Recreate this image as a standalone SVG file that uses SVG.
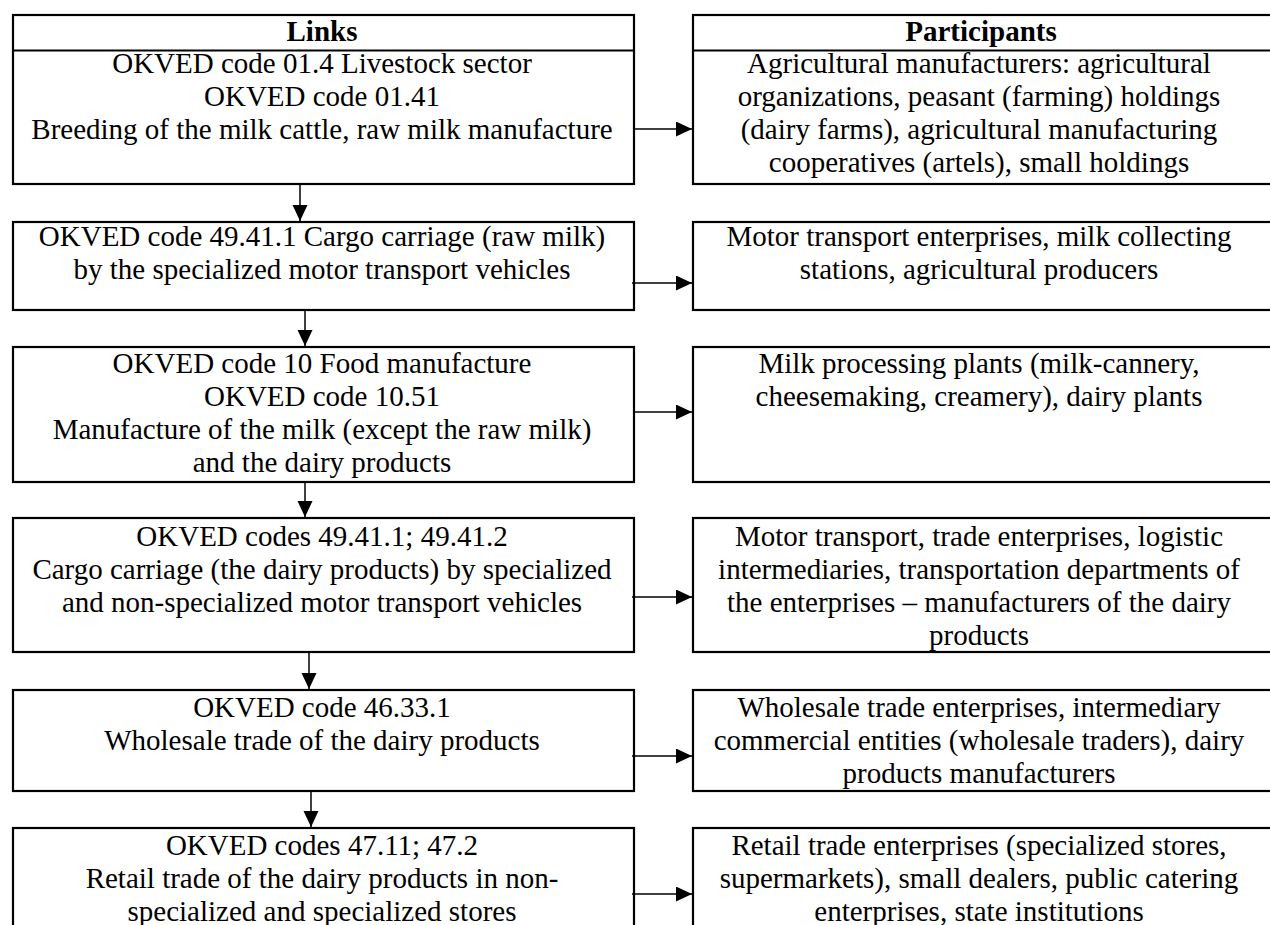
<svg xmlns="http://www.w3.org/2000/svg" width="1270" height="925" viewBox="0 0 1270 925">
  <style>
    .box { fill: #ffffff; stroke: #000000; stroke-width: 2.2; }
    .div { stroke: #000000; stroke-width: 2.2; }
    .t { font-family: "Liberation Serif", "Times New Roman", serif; font-size: 29px; fill: #000000; text-anchor: middle; }
    .h { font-weight: bold; }
    .arr { stroke: #000000; stroke-width: 1.5; fill: none; }
  </style>
  <defs>
    <marker id="ah" markerUnits="userSpaceOnUse" markerWidth="18" markerHeight="18" refX="16" refY="7.5" orient="auto">
      <path d="M0,0 L16,7.5 L0,15 Z" fill="#000000"/>
    </marker>
  </defs>
  <rect width="1270" height="925" fill="#ffffff"/>

  <g id="links-1">
    <rect class="box" x="13" y="15" width="621" height="169"/>
    <line class="div" x1="13" y1="50.5" x2="634" y2="50.5"/>
    <text class="t h" x="322" y="41">Links</text>
    <text class="t" x="322" y="73">OKVED code 01.4 Livestock sector</text>
    <text class="t" x="322" y="106">OKVED code 01.41</text>
    <text class="t" x="322" y="139">Breeding of the milk cattle, raw milk manufacture</text>
  </g>
  <g id="participants-1">
    <rect class="box" x="693" y="15" width="600" height="169"/>
    <line class="div" x1="693" y1="50.5" x2="1293" y2="50.5"/>
    <text class="t h" x="981" y="41">Participants</text>
    <text class="t" x="979" y="73">Agricultural manufacturers: agricultural</text>
    <text class="t" x="979" y="106">organizations, peasant (farming) holdings</text>
    <text class="t" x="979" y="139">(dairy farms), agricultural manufacturing</text>
    <text class="t" x="979" y="172">cooperatives (artels), small holdings</text>
  </g>

  <g id="links-2">
    <rect class="box" x="13" y="222" width="621" height="88"/>
    <text class="t" x="322" y="246">OKVED code 49.41.1 Cargo carriage (raw milk)</text>
    <text class="t" x="322" y="279">by the specialized motor transport vehicles</text>
  </g>
  <g id="participants-2">
    <rect class="box" x="693" y="222" width="600" height="88"/>
    <text class="t" x="979" y="246">Motor transport enterprises, milk collecting</text>
    <text class="t" x="979" y="279">stations, agricultural producers</text>
  </g>

  <g id="links-3">
    <rect class="box" x="13" y="347" width="621" height="135"/>
    <text class="t" x="322" y="373">OKVED code 10 Food manufacture</text>
    <text class="t" x="322" y="406">OKVED code 10.51</text>
    <text class="t" x="322" y="439">Manufacture of the milk (except the raw milk)</text>
    <text class="t" x="322" y="472">and the dairy products</text>
  </g>
  <g id="participants-3">
    <rect class="box" x="693" y="347" width="600" height="135"/>
    <text class="t" x="979" y="373">Milk processing plants (milk-cannery,</text>
    <text class="t" x="979" y="406">cheesemaking, creamery), dairy plants</text>
  </g>

  <g id="links-4">
    <rect class="box" x="13" y="518" width="621" height="134"/>
    <text class="t" x="322" y="546">OKVED codes 49.41.1; 49.41.2</text>
    <text class="t" x="322" y="579">Cargo carriage (the dairy products) by specialized</text>
    <text class="t" x="322" y="612">and non-specialized motor transport vehicles</text>
  </g>
  <g id="participants-4">
    <rect class="box" x="693" y="518" width="600" height="134"/>
    <text class="t" x="979" y="546">Motor transport, trade enterprises, logistic</text>
    <text class="t" x="979" y="579">intermediaries, transportation departments of</text>
    <text class="t" x="979" y="612">the enterprises – manufacturers of the dairy</text>
    <text class="t" x="979" y="645">products</text>
  </g>

  <g id="links-5">
    <rect class="box" x="13" y="690" width="621" height="101"/>
    <text class="t" x="322" y="717">OKVED code 46.33.1</text>
    <text class="t" x="322" y="750">Wholesale trade of the dairy products</text>
  </g>
  <g id="participants-5">
    <rect class="box" x="693" y="690" width="600" height="101"/>
    <text class="t" x="979" y="717">Wholesale trade enterprises, intermediary</text>
    <text class="t" x="979" y="750">commercial entities (wholesale traders), dairy</text>
    <text class="t" x="979" y="783">products manufacturers</text>
  </g>

  <g id="links-6">
    <rect class="box" x="13" y="828" width="621" height="200"/>
    <text class="t" x="322" y="855">OKVED codes 47.11; 47.2</text>
    <text class="t" x="322" y="888">Retail trade of the dairy products in non-</text>
    <text class="t" x="322" y="921">specialized and specialized stores</text>
  </g>
  <g id="participants-6">
    <rect class="box" x="693" y="828" width="600" height="200"/>
    <text class="t" x="979" y="855">Retail trade enterprises (specialized stores,</text>
    <text class="t" x="979" y="888">supermarkets), small dealers, public catering</text>
    <text class="t" x="979" y="921">enterprises, state institutions</text>
  </g>

  <g id="connectors">
    <line class="arr" x1="633" y1="129" x2="692" y2="129" marker-end="url(#ah)"/>
    <line class="arr" x1="632" y1="283" x2="692" y2="283" marker-end="url(#ah)"/>
    <line class="arr" x1="633" y1="412" x2="692" y2="412" marker-end="url(#ah)"/>
    <line class="arr" x1="632" y1="597" x2="692" y2="597" marker-end="url(#ah)"/>
    <line class="arr" x1="632" y1="756" x2="692" y2="756" marker-end="url(#ah)"/>
    <line class="arr" x1="632" y1="894" x2="692" y2="894" marker-end="url(#ah)"/>
    <line class="arr" x1="300" y1="185" x2="300" y2="221" marker-end="url(#ah)"/>
    <line class="arr" x1="305" y1="311" x2="305" y2="346" marker-end="url(#ah)"/>
    <line class="arr" x1="305" y1="483" x2="305" y2="517" marker-end="url(#ah)"/>
    <line class="arr" x1="309" y1="652" x2="309" y2="689" marker-end="url(#ah)"/>
    <line class="arr" x1="311" y1="792" x2="311" y2="827" marker-end="url(#ah)"/>
  </g>
</svg>
